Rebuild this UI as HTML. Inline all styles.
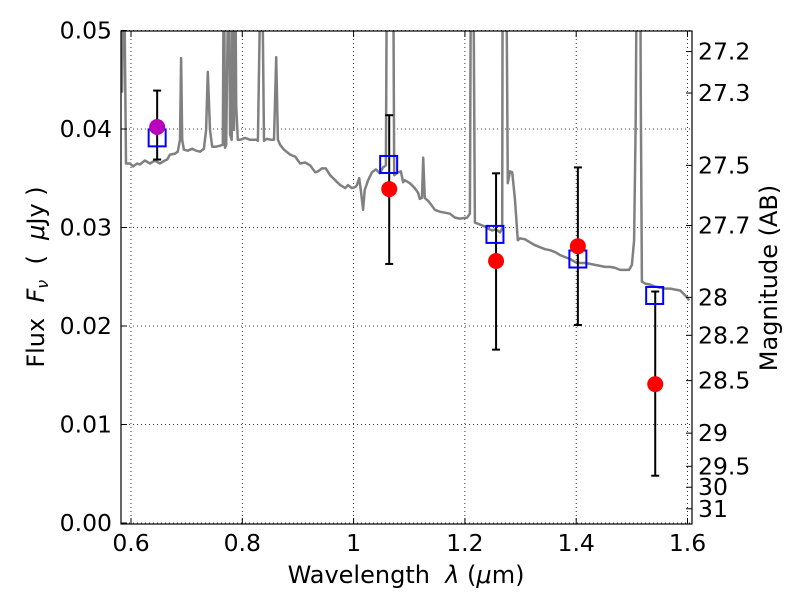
<!DOCTYPE html>
<html><head><meta charset="utf-8"><style>
body{margin:0;background:#fff}
svg text{font-family:"DejaVu Sans","Liberation Sans",sans-serif;fill:#000}
</style></head><body>
<svg id="c" width="800" height="600" xmlns="http://www.w3.org/2000/svg"></svg>
<script>
const xTicks=[0.6,0.8,1.0,1.2,1.4,1.6];
const xTickLabels=["0.6","0.8","1","1.2","1.4","1.6"];
const yTicks=[0,0.01,0.02,0.03,0.04,0.05];
const yTickLabels=["0.00","0.01","0.02","0.03","0.04","0.05"];
const magTicks=[27.2,27.3,27.5,27.7,28,28.2,28.5,29,29.5,30,31];
const magLabels=["27.2","27.3","27.5","27.7","28","28.2","28.5","29","29.5","30","31"];
const specLam=[0.582,0.584,0.587,0.591,0.598,0.604,0.611,0.616,0.625,0.634,0.643,0.652,0.661,0.665,0.670,0.679,0.684,0.688,0.690,0.692,0.695,0.702,0.710,0.717,0.724,0.731,0.735,0.738,0.742,0.746,0.753,0.760,0.765,0.767,0.769,0.771,0.776,0.778,0.781,0.783,0.785,0.787,0.789,0.792,0.796,0.805,0.814,0.825,0.828,0.834,0.835,0.839,0.844,0.852,0.857,0.861,0.864,0.868,0.875,0.886,0.895,0.904,0.913,0.922,0.931,0.936,0.943,0.950,0.958,0.967,0.976,0.985,0.990,0.997,1.003,1.006,1.010,1.013,1.017,1.020,1.026,1.033,1.040,1.047,1.053,1.058,1.060,1.071,1.073,1.080,1.085,1.089,1.092,1.101,1.110,1.116,1.119,1.123,1.125,1.128,1.134,1.137,1.146,1.155,1.164,1.173,1.182,1.191,1.204,1.209,1.211,1.215,1.218,1.227,1.236,1.245,1.249,1.254,1.259,1.263,1.267,1.268,1.274,1.277,1.281,1.285,1.290,1.295,1.299,1.308,1.317,1.326,1.335,1.344,1.353,1.362,1.371,1.380,1.389,1.398,1.407,1.416,1.425,1.434,1.443,1.452,1.461,1.470,1.479,1.488,1.495,1.500,1.504,1.507,1.509,1.515,1.516,1.518,1.524,1.533,1.542,1.551,1.560,1.569,1.578,1.587,1.596,1.603];
const specFlux=[.060,.0438,.060,.0365,.0365,.0362,.0365,.0364,.0368,.0365,.0368,.0365,.0368,.0369,.0374,.0375,.0377,.0389,.0472,.0389,.0379,.0378,.0380,.0378,.0377,.0380,.0399,.0458,.0399,.0382,.0382,.0383,.0384,.060,.0381,.0384,.060,.0394,.0389,.060,.0399,.060,.0424,.0389,.0389,.0391,.0389,.0389,.0388,.060,.060,.0388,.0390,.0389,.0389,.0473,.0389,.0384,.0379,.0374,.0372,.0365,.0366,.0363,.0356,.0357,.0360,.0360,.0353,.0348,.0343,.0340,.0343,.0340,.0341,.0343,.0350,.0338,.0318,.0338,.0348,.0356,.0359,.0355,.0361,.0363,.060,.060,.0353,.0356,.0357,.0346,.0348,.0345,.0340,.0335,.0329,.0330,.0371,.0330,.0327,.0325,.0318,.0316,.0315,.0314,.0310,.0309,.0310,.0314,.060,.060,.0305,.0303,.0301,.0298,.0297,.0298,.0297,.0295,.0299,.060,.060,.0345,.0357,.0356,.0328,.0287,.0289,.0288,.0285,.0282,.0280,.0278,.0277,.0275,.0272,.0270,.0268,.0265,.0264,.0264,.0263,.0262,.0261,.0260,.0260,.0259,.0257,.0257,.0257,.0262,.0287,.0409,.060,.060,.0429,.0245,.0243,.0242,.0240,.0239,.0238,.0238,.0237,.0236,.0231,.0226];
const obsLam=[0.647,1.064,1.256,1.403,1.542];
const obsFlux=[0.0402,0.0339,0.0266,0.0281,0.0141];
const obsHi=[0.0439,0.0414,0.0355,0.0361,0.0235];
const obsLo=[0.0369,0.0263,0.0176,0.0201,0.0048];
const modLam=[0.647,1.063,1.254,1.403,1.541];
const modFlux=[0.0391,0.0364,0.0293,0.0268,0.0231];

const L=121,R=692,T=31,B=524;
const X=v=>131+(v-0.6)*556.5;
const Y=v=>523-v*9850;
const MY=m=>Y(Math.pow(10,(23.9-m)/2.5));
const svg=document.getElementById('c');const NS='http://www.w3.org/2000/svg';
function mk(t,a,p){const e=document.createElementNS(NS,t);for(const k in a)e.setAttribute(k,a[k]);(p||svg).appendChild(e);return e;}
const defs=mk('defs',{});const cp=mk('clipPath',{id:'pc'},defs);mk('rect',{x:L,y:T,width:R-L,height:B-T},cp);
const grid=mk('g',{});
xTicks.forEach(v=>mk('line',{x1:X(v),x2:X(v),y1:T,y2:B,stroke:'#000','stroke-width':0.8,'stroke-dasharray':'1,3'},grid));
yTicks.forEach(v=>mk('line',{x1:L,x2:R,y1:Y(v),y2:Y(v),stroke:'#000','stroke-width':0.8,'stroke-dasharray':'1,3'},grid));
const plot=mk('g',{'clip-path':'url(#pc)'});
let d='';specLam.forEach((l,i)=>{d+=(i?'L':'M')+X(l).toFixed(1)+','+Y(specFlux[i]).toFixed(1);});
const sp=mk('path',{d:d,fill:'none',stroke:'#808080','stroke-width':2.5,'stroke-linejoin':'round'},plot);

obsLam.forEach((l,i)=>{
 const x=X(l);
 const eb=mk('g',{stroke:'#000','stroke-width':2},plot);
 
 mk('line',{x1:x,x2:x,y1:Y(obsHi[i]),y2:Y(obsLo[i])},eb);
 mk('line',{x1:x-4,x2:x+4,y1:Y(obsHi[i]),y2:Y(obsHi[i])},eb);
 mk('line',{x1:x-4,x2:x+4,y1:Y(obsLo[i]),y2:Y(obsLo[i])},eb);
});
modLam.forEach((l,i)=>{
 const r=mk('rect',{x:X(l)-8.5,y:Y(modFlux[i])-8.5,width:17,height:17,fill:'none',stroke:'#0000ff','stroke-width':2},plot);
 
});
obsLam.forEach((l,i)=>{
 const c=mk('circle',{cx:X(l),cy:Y(obsFlux[i]),r:8,fill:i===0?'#bb00bb':'#ff0000'},plot);
 
});
mk('rect',{x:L,y:T,width:R-L,height:B-T,fill:'none',stroke:'#000','stroke-width':1.2});
const ax=mk('g',{stroke:'#000','stroke-width':1});
xTicks.forEach(v=>{mk('line',{x1:X(v),x2:X(v),y1:B,y2:B-6},ax);mk('line',{x1:X(v),x2:X(v),y1:T,y2:T+6},ax);});
yTicks.forEach(v=>{mk('line',{x1:L,x2:L+6,y1:Y(v),y2:Y(v)},ax);});
magTicks.forEach(m=>{mk('line',{x1:R,x2:R-6,y1:MY(m),y2:MY(m)},ax);});
xTicks.forEach((v,i)=>{const t=mk('text',{x:X(v),y:551,'font-size':23.5,'text-anchor':'middle'});t.textContent=xTickLabels[i];
 });
yTicks.forEach((v,i)=>{const t=mk('text',{x:112,y:Y(v)+8,'font-size':23.5,'text-anchor':'end'});t.textContent=yTickLabels[i];
 });
magTicks.forEach((m,i)=>{const t=mk('text',{x:698,y:MY(m)+8,'font-size':23.5});t.textContent=magLabels[i];
 });
</script>
<svg width="800" height="600" style="position:absolute;left:0;top:0" xml:space="preserve">
<text x="406" y="583" font-size="24" text-anchor="middle" style="font-family:'DejaVu Sans',sans-serif;white-space:pre">Wavelength  <tspan font-style="italic">λ</tspan> (<tspan font-style="italic">μ</tspan>m)</text>
<text transform="translate(44,277) rotate(-90)" font-size="24" text-anchor="middle" style="font-family:'DejaVu Sans',sans-serif;white-space:pre">Flux  <tspan font-style="italic">F</tspan><tspan font-style="italic" font-size="16" dy="4">ν</tspan><tspan dy="-4">  (  </tspan><tspan font-style="italic">μ</tspan>Jy )</text>
<text transform="translate(777,278) rotate(-90)" font-size="24" text-anchor="middle" style="font-family:'DejaVu Sans',sans-serif">Magnitude (AB)</text>
</svg>
</body></html>
